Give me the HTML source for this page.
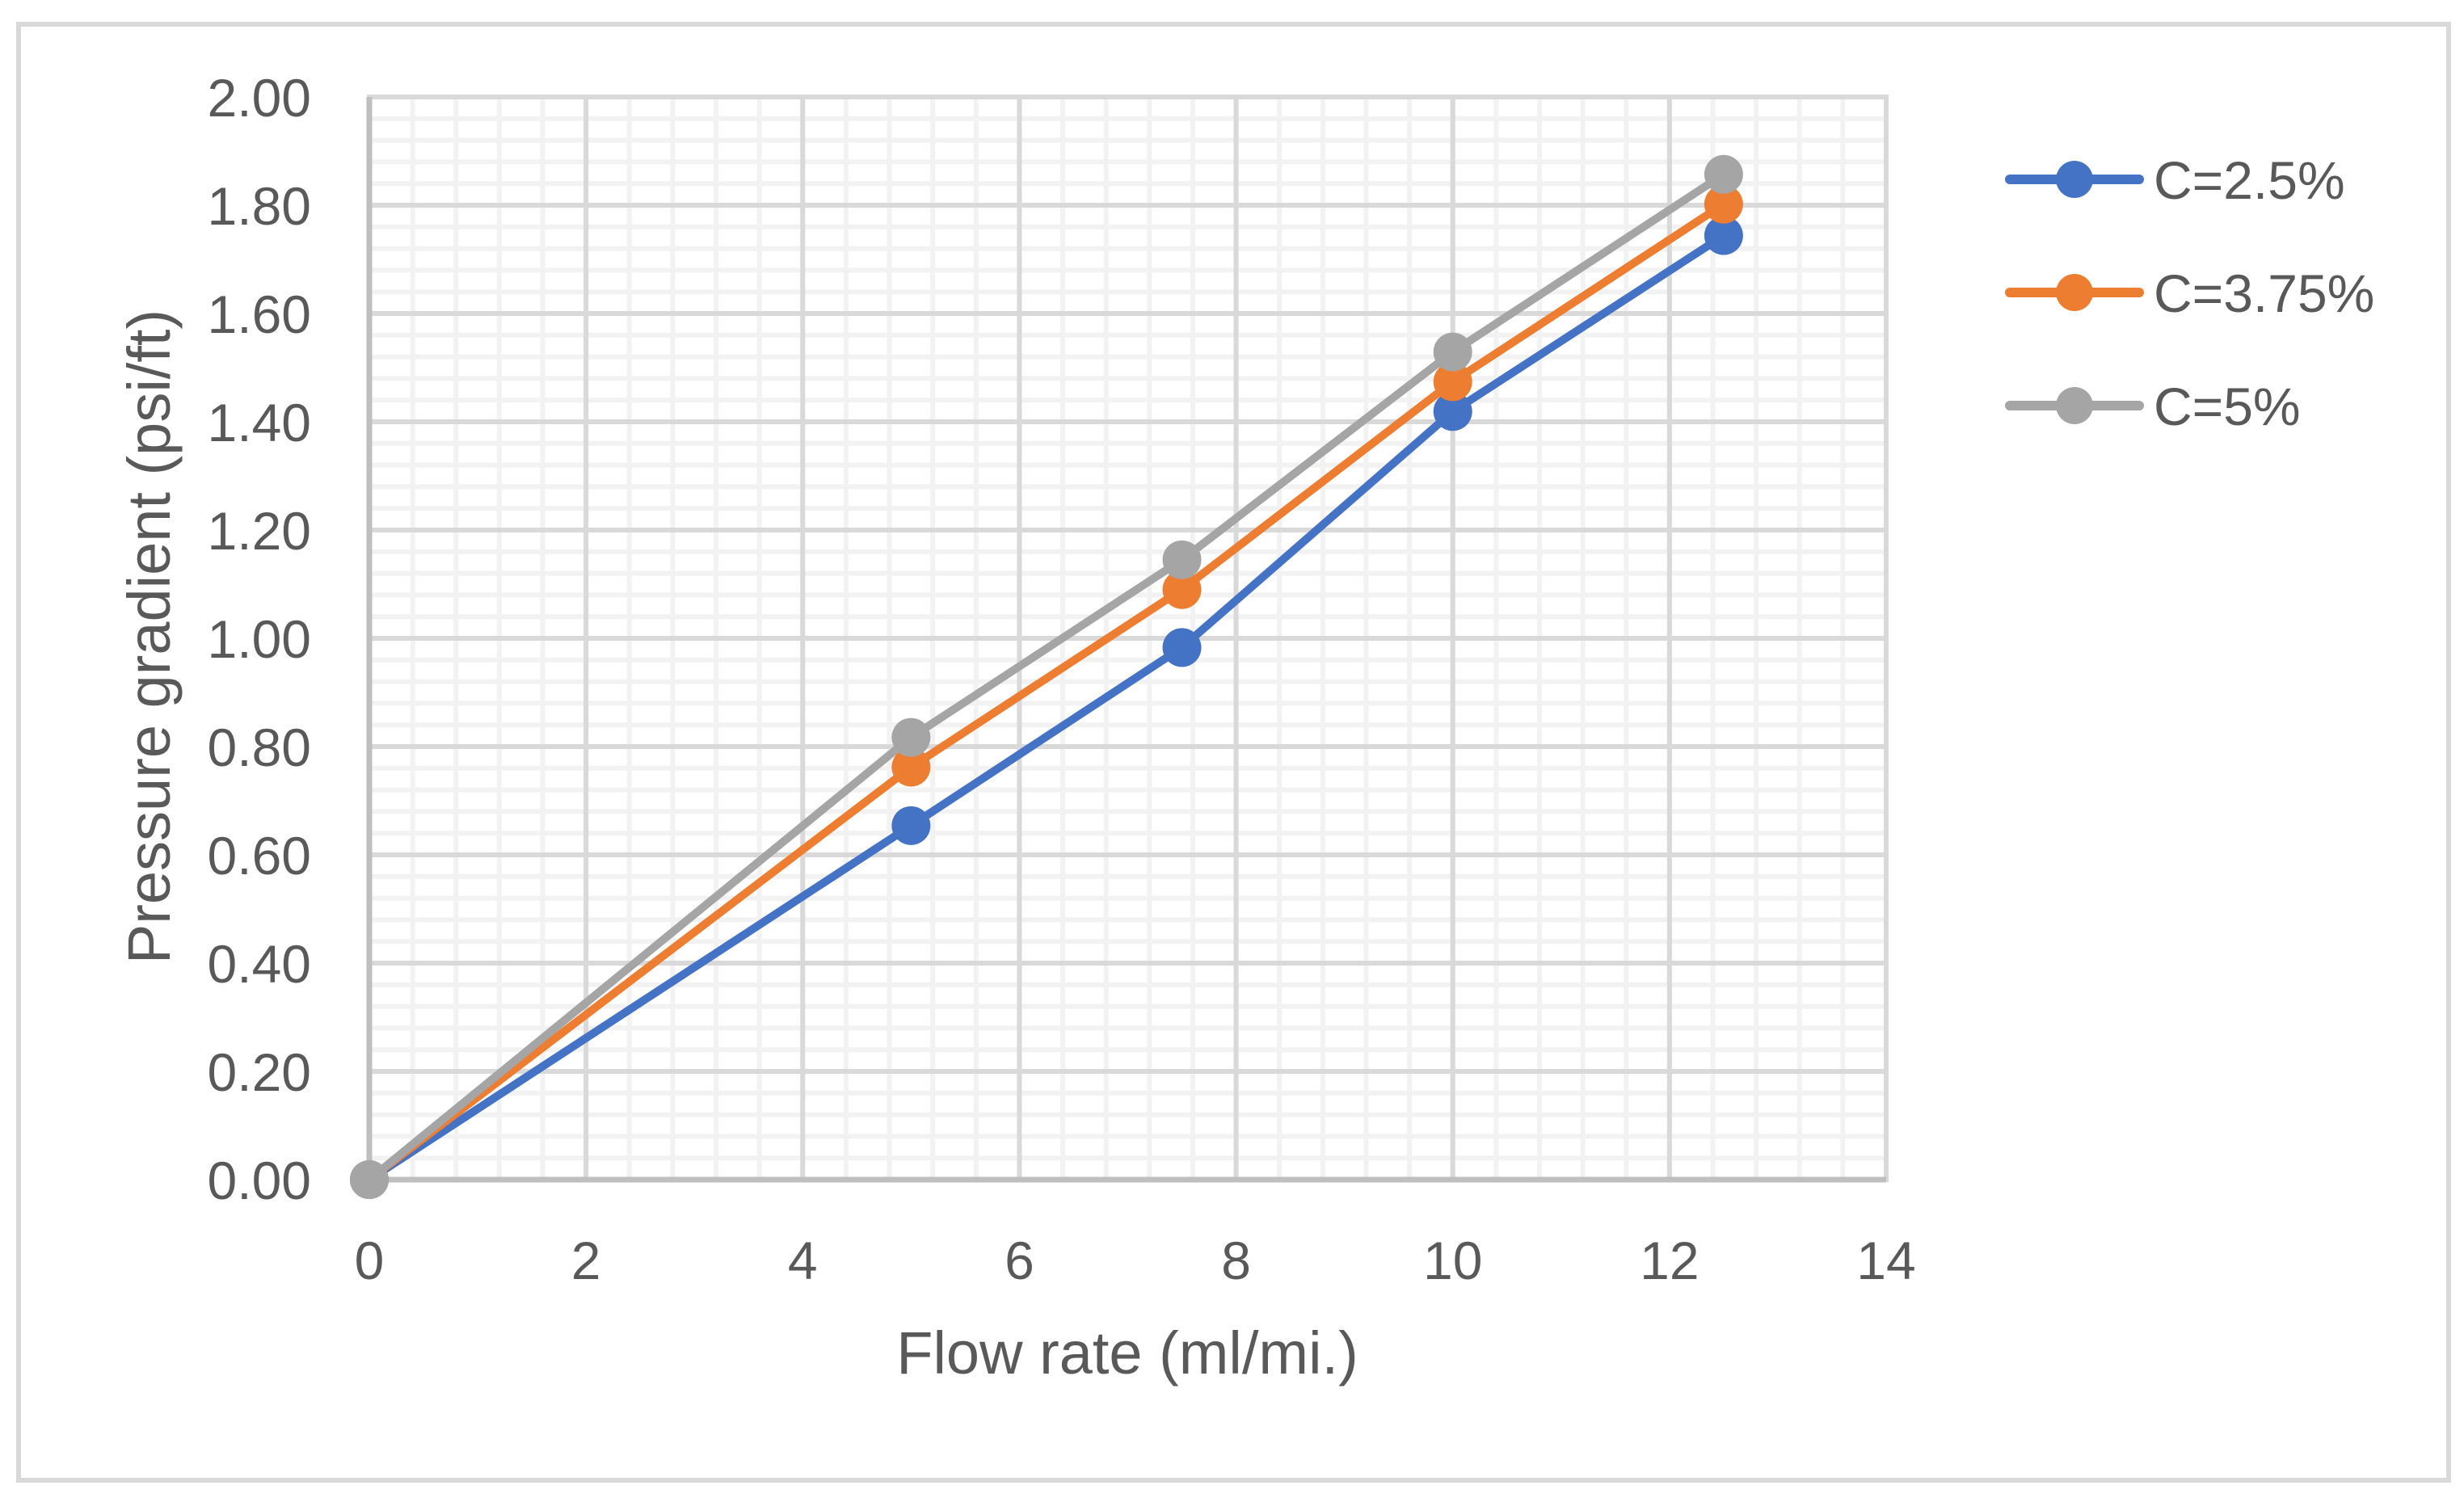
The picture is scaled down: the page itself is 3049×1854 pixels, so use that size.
<!DOCTYPE html>
<html><head><meta charset="utf-8"><style>
html,body{margin:0;padding:0;background:#fff;}
svg{display:block;font-family:"Liberation Sans",sans-serif;}
</style></head><body>
<svg id="chart" width="3049" height="1854" viewBox="0 0 3049 1854">
<rect x="23" y="30" width="3007" height="1802" fill="#fff" stroke="#D9D9D9" stroke-width="6"/>
<g id="grid"></g>
<g id="axes"></g>
<g id="series"></g>
<text x="1395" y="1700" font-size="74" fill="#595959" text-anchor="middle">Flow rate (ml/mi.)</text>
<text transform="translate(210,788) rotate(-90)" font-size="74" fill="#595959" text-anchor="middle">Pressure gradient (psi/ft)</text>
<g id="legend"></g>
</svg>
<script>
const xValues = [0, 5, 7.5, 10, 12.5];
const seriesNames = ["C=2.5%", "C=3.75%", "C=5%"];
const seriesA = [0, 0.654, 0.983, 1.419, 1.744];
const seriesB = [0, 0.762, 1.090, 1.474, 1.802];
const seriesC = [0, 0.817, 1.145, 1.529, 1.857];
const xTicks = [0, 2, 4, 6, 8, 10, 12, 14];
const yTicks = [0, 0.2, 0.4, 0.6, 0.8, 1.0, 1.2, 1.4, 1.6, 1.8, 2.0];
const colors = ["#4472C4", "#ED7D31", "#A5A5A5"];

const L = 457, R = 2334, T = 120, B = 1460;
const xMin = 0, xMax = 14, yMin = 0, yMax = 2;
const sx = v => L + (v - xMin) / (xMax - xMin) * (R - L);
const sy = v => B - (v - yMin) / (yMax - yMin) * (B - T);
const NS = "http://www.w3.org/2000/svg";
function mk(tag, attrs, parent) {
  const e = document.createElementNS(NS, tag);
  for (const k in attrs) e.setAttribute(k, attrs[k]);
  parent.appendChild(e);
  return e;
}
const grid = document.getElementById('grid');
// minor gridlines
const xStep = xTicks[1] - xTicks[0], yStep = yTicks[1] - yTicks[0];
for (let v = xMin; v <= xMax + 1e-9; v += xStep / 5) {
  const l = mk('line', {x1: sx(v), x2: sx(v), y1: T, y2: B, stroke: '#F2F2F2', 'stroke-width': 6}, grid);
  
  
}
for (let v = yMin; v <= yMax + 1e-9; v += yStep / 5) {
  const l = mk('line', {x1: L, x2: R, y1: sy(v), y2: sy(v), stroke: '#F2F2F2', 'stroke-width': 6}, grid);
  
  
}
xTicks.forEach(v => {
  const l = mk('line', {x1: sx(v), x2: sx(v), y1: T - 3, y2: B, stroke: '#D9D9D9', 'stroke-width': 6}, grid);
  
  
});
yTicks.forEach(v => {
  const l = mk('line', {x1: L, x2: R + 3, y1: sy(v), y2: sy(v), stroke: '#D9D9D9', 'stroke-width': 6}, grid);
  
  
});
const axes = document.getElementById('axes');
let ax = mk('line', {x1: L, x2: R, y1: B, y2: B, stroke: '#BFBFBF', 'stroke-width': 7}, axes);


ax = mk('line', {x1: L, x2: L, y1: T, y2: B, stroke: '#BFBFBF', 'stroke-width': 7}, axes);


xTicks.forEach(v => {
  const t = mk('text', {x: sx(v), y: 1583, 'font-size': 66, fill: '#595959', 'text-anchor': 'middle'}, axes);
  t.textContent = String(v);
  
  
});
yTicks.forEach(v => {
  const t = mk('text', {x: 385, y: sy(v) + 24, 'font-size': 66, fill: '#595959', 'text-anchor': 'end'}, axes);
  t.textContent = v.toFixed(2);
  
  
});
const series = document.getElementById('series');
[seriesA, seriesB, seriesC].forEach((arr, i) => {
  const g = mk('g', {}, series);
  
  
  const pts = arr.map((y, j) => sx(xValues[j]) + ',' + sy(y)).join(' ');
  const pl = mk('polyline', {points: pts, fill: 'none', stroke: colors[i], 'stroke-width': 10, 'stroke-linejoin': 'round', 'stroke-linecap': 'round'}, g);
  
  
  arr.forEach((y, j) => {
    const c = mk('circle', {cx: sx(xValues[j]), cy: sy(y), r: 24, fill: colors[i]}, g);
    
    
  });
});
const legend = document.getElementById('legend');
const legY = [222, 362, 502];
seriesNames.forEach((n, i) => {
  const g = mk('g', {}, legend);
  
  
  mk('line', {x1: 2487, x2: 2647, y1: legY[i], y2: legY[i], stroke: colors[i], 'stroke-width': 12, 'stroke-linecap': 'round'}, g);
  mk('circle', {cx: 2567, cy: legY[i], r: 23, fill: colors[i]}, g);
  const t = mk('text', {x: 2665, y: legY[i] + 24, 'font-size': 66, fill: '#595959'}, g);
  t.textContent = n;
});
</script>
</body></html>
